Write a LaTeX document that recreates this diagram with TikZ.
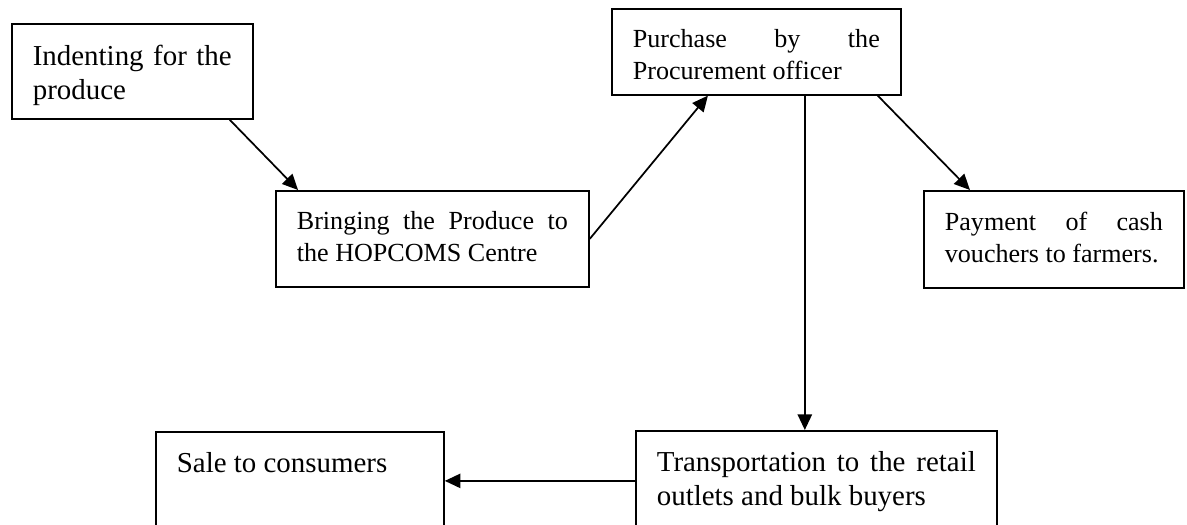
\documentclass[tikz,border=0pt]{standalone}
\usepackage{fontspec}
\setmainfont{Liberation Serif}
\usetikzlibrary{arrows.meta}
\hbadness=10000
\vbadness=10000
\tikzset{%
	stage/.style={draw, line width=0.8pt, anchor=north west, inner sep=9.66pt, font=\fontsize{12}{14.7}\selectfont},
	stagebig/.style={stage, font=\fontsize{13.3}{15.6}\selectfont},
	arrow/.style={line width=0.8pt,-{Triangle[length=7.2pt,width=6.6pt]}}}
\newcommand{\stagetext}[3]{\parbox[c][#2][t]{#1}{#3}}

\begin{document}
\begin{tikzpicture}[x=0.46pt,y=-0.46pt]
		\path[use as bounding box, clip] (0,0) rectangle (1187,525);
		\node[stagebig] (IFP) at (11,23) {\stagetext{91.5pt}{24.4pt}{Indenting for the\linebreak produce}};
		\node[stage] (BPH) at (275,190) {\stagetext{124.7pt}{24.8pt}{Bringing the Produce to\linebreak the HOPCOMS Centre}};
		\node[stage] (PPO) at (611,8) {\stagetext{113.6pt}{20.2pt}{Purchase by the\linebreak Procurement officer}};
		\node[stage] (PCV) at (923,190) {\stagetext{100.3pt}{25.3pt}{Payment of cash\linebreak vouchers to farmers.}};
		\node[stagebig] (TRB) at (635,430) {\stagetext{146.7pt}{26.7pt}{Transportation to the retail\linebreak outlets and bulk buyers}};
		\node[stagebig] (STC) at (155,431) {\stagetext{113.2pt}{25.8pt}{Sale to consumers}};
		
		\coordinate (PPOd) at ([xshift=22.3pt]PPO.south);
		
		\draw[arrow] ([xshift=-11pt]IFP.south east) -- ([xshift=10.6pt]BPH.north west);
		\draw[arrow] (BPH.east) -- ([xshift=-22.3pt]PPO.south);
		\draw[arrow] (PPOd) -- (PPOd |- TRB.north);
		\draw[arrow] ([xshift=-11pt]PPO.south east) -- ([xshift=21.6pt]PCV.north west);
		\draw[arrow] (TRB.west) -- (TRB.west -| STC.east);
	\end{tikzpicture}
\end{document}
